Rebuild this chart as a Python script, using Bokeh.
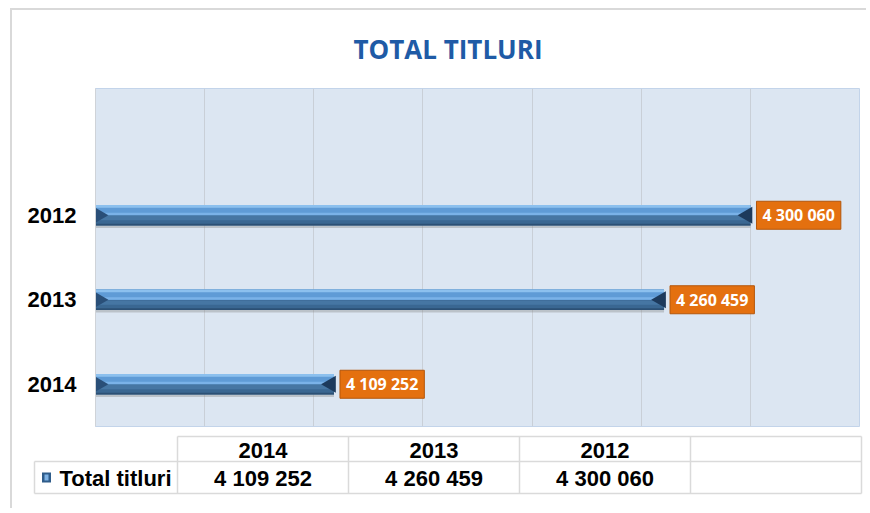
import math
from bokeh.plotting import figure
from bokeh.models import Range1d, FactorRange, SingleIntervalTicker, ColumnDataSource
from bokeh.transform import dodge
from bokeh.core.properties import value
from bokeh.embed import file_html
from bokeh.resources import INLINE

# ---- data ----
years = ["2014", "2013", "2012"]
values = [4109252, 4260459, 4300060]
title_text = "TOTAL TITLURI"
series_name = "Total titluri"
axis_min = 4000000
axis_max = 4350000
grid_step = 50000


def fmt(v):
    return f"{v:,}".replace(",", " ")


factors = years + [" "]
src = ColumnDataSource(dict(
    year=years, val=values, label=[fmt(v) for v in values], base=[axis_min] * len(years)
))

W = 856
H1 = 422
H2 = 78

p = figure(width=W, height=H1, x_range=Range1d(axis_min, axis_max),
           y_range=FactorRange(*factors), output_backend="svg", toolbar_location=None,
           min_border_left=83, min_border_right=9, min_border_top=78, min_border_bottom=6,
           styles={"margin-left": "10px", "margin-top": "8px",
                   "border-left": "2px solid #d9d9d9", "border-top": "2px solid #d9d9d9"})

p.title.text = title_text
p.title.align = "left"
p.title.vertical_align = "top"
p.title.text_font = "Open Sans"
p.title.text_font_style = "bold"
p.title.text_font_size = "26px"
p.title.text_color = "#1f5ba6"
p.title.offset = 258
p.title.standoff = 40

p.background_fill_color = "#dce6f2"
p.border_fill_color = "white"
p.outline_line_color = "#c3d4ea"
p.xaxis.visible = False
p.xgrid.ticker = SingleIntervalTicker(interval=grid_step)
p.xgrid.grid_line_color = "#c9cfd7"
p.ygrid.grid_line_color = None

ax = p.yaxis[0]
ax.axis_line_color = "#cfd3d8"
ax.major_tick_line_color = None
ax.minor_tick_line_color = None
ax.major_label_text_font = "Liberation Sans"
ax.major_label_text_font_style = "bold"
ax.major_label_text_font_size = "22px"
ax.major_label_text_color = "black"
ax.major_label_standoff = 13

yr = p.y_range
# shadow
p.hbar(y=dodge("year", -0.03, range=yr), left="base", right="val", height=0.24,
       source=src, fill_color="#7f7f7f", fill_alpha=0.35, line_color=None)
# base (dark lower part)
p.hbar(y="year", left="base", right="val", height=0.24, source=src,
       fill_color="#3a6792", line_color=None)
p.hbar(y=dodge("year", -0.11, range=yr), left="base", right="val", height=0.02,
       source=src, fill_color="#2c5075", line_color=None)
p.hbar(y=dodge("year", -0.035, range=yr), left="base", right="val", height=0.05,
       source=src, fill_color="#4676a3", line_color=None)
# upper light part
p.hbar(y=dodge("year", 0.06, range=yr), left="base", right="val", height=0.12,
       source=src, fill_color="#5f9bd6", line_color=None)
p.hbar(y=dodge("year", 0.105, range=yr), left="base", right="val", height=0.03,
       source=src, fill_color="#8cc0ee", line_color=None)
p.hbar(y=dodge("year", 0.015, range=yr), left="base", right="val", height=0.03,
       source=src, fill_color="#7ab2e8", line_color=None)
# bevelled ends
p.scatter(x=dodge("val", -1400, range=p.x_range), y="year", source=src,
          marker="triangle", angle=math.pi / 2, size=17,
          fill_color="#1d3a5c", line_color=None)
p.scatter(x=dodge("base", 1400, range=p.x_range), y="year", source=src,
          marker="triangle", angle=-math.pi / 2, size=17,
          fill_color="#2a4f78", line_color=None)

# value labels in orange boxes
p.text(x="val", y="year", text="label", source=src, x_offset=6,
       text_font=value("Open Sans"), text_font_style="bold", text_font_size="16px",
       text_color="white", text_align="left", text_baseline="middle",
       background_fill_color="#e4700f", border_line_color="#b4560a",
       padding=(6, 6, 3, 3))

# ---- data table ----
t = figure(width=W, height=H2, x_range=Range1d(0, W), y_range=Range1d(H2, 0),
           output_backend="svg", toolbar_location=None, x_axis_type=None,
           y_axis_type=None, min_border=0,
           styles={"margin-left": "10px", "border-left": "2px solid #d9d9d9"})
t.outline_line_color = None
t.grid.visible = False

tab_left = 22
lab_w = 143
col_w = 171
row_top = 6
row_mid = 31
row_bot = 63
n_cols = len(years) + 1
edges = [tab_left + lab_w + i * col_w for i in range(n_cols + 1)]
right = edges[-1]

line_c = "#dadada"
t.segment(x0=[edges[0], tab_left, tab_left], y0=[row_top, row_mid, row_bot],
          x1=[right, right, right], y1=[row_top, row_mid, row_bot],
          line_color=line_c, line_width=1.5)
t.segment(x0=[tab_left] + edges, y0=[row_mid] + [row_top] * len(edges),
          x1=[tab_left] + edges, y1=[row_bot] * (len(edges) + 1),
          line_color=line_c, line_width=1.5)

centers = [(edges[i] + edges[i + 1]) / 2 for i in range(len(years))]
t.text(x=centers, y=[(row_top + row_mid) / 2 + 1] * len(years), text=years,
       text_font=value("Liberation Sans"), text_font_style="bold", text_font_size="22px",
       text_color="black", text_align="center", text_baseline="middle")
t.text(x=centers, y=[(row_mid + row_bot) / 2 + 1] * len(years), text=[fmt(v) for v in values],
       text_font=value("Liberation Sans"), text_font_style="bold", text_font_size="22px",
       text_color="black", text_align="center", text_baseline="middle")
t.text(x=[tab_left + 25], y=[(row_mid + row_bot) / 2 + 1], text=[series_name],
       text_font=value("Liberation Sans"), text_font_style="bold", text_font_size="22px",
       text_color="black", text_align="left", text_baseline="middle")
# legend key
kx = tab_left + 12
ky = (row_mid + row_bot) / 2
t.rect(x=[kx], y=[ky], width=9, height=10, fill_color="#2f5c8a", line_color=None)
t.rect(x=[kx], y=[ky], width=4, height=6, fill_color="#7fb2e4", line_color=None)

open("out.html", "w").write(file_html([p, t], INLINE))
